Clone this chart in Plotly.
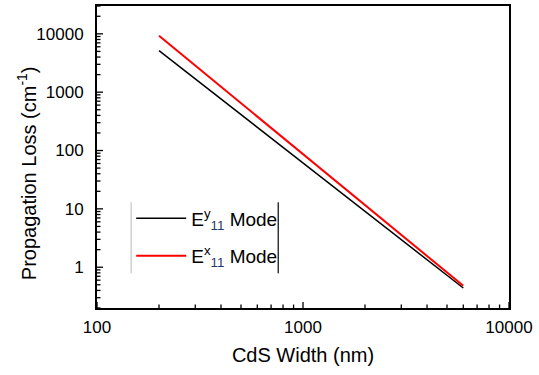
import plotly.graph_objects as go

width_nm = [200, 300, 500, 1000, 2000, 3000, 4000, 4700, 6000]
loss_ey = [5150, 1690, 413, 61, 9.05, 2.97, 1.34, 0.86, 0.44]
loss_ex = [9250, 2860, 653, 88, 11.8, 3.66, 1.59, 1.0, 0.48]

x_major_ticks = [100, 1000, 10000]
y_major_ticks = [1, 10, 100, 1000, 10000]
x_minor_ticks = [m * 10 ** e for e in (2, 3) for m in range(2, 10)]
y_minor_ticks = [m * 10 ** e for e in (-1, 0, 1, 2, 3, 4) for m in range(2, 10)
                 if 0.2 <= m * 10 ** e <= 30000]

names = ["E<sup>y</sup><sub><span style='color:#1f3a68'>11</span></sub> Mode",
         "E<sup>x</sup><sub><span style='color:#1f3a68'>11</span></sub> Mode"]

fig = go.Figure()
fig.add_trace(go.Scatter(x=width_nm, y=loss_ey, mode="lines", name=names[0],
                         legendgroup="a",
                         line=dict(color="black", width=1.5)))
fig.add_trace(go.Scatter(x=width_nm, y=loss_ex, mode="lines", name=names[1],
                         legendgroup="b",
                         line=dict(color="#ff0000", width=2)))

font = "Liberation Sans, Arial, sans-serif"
XR = [2, 4]
YR = [-0.699, 4.477]
ML, MR, MT, MB = 97, 30, 4, 67
PW, PH = 539 - ML - MR, 375 - MT - MB
axis_common = dict(showline=True, linecolor="black", linewidth=2, mirror=True,
                   ticks="", showgrid=False, zeroline=False)
fig.update_layout(
    width=539, height=375,
    margin=dict(l=ML, r=MR, t=MT, b=MB),
    paper_bgcolor="white", plot_bgcolor="white",
    font=dict(family=font, size=17, color="black"),
    showlegend=True,
    legend=dict(x=0.083, y=0.36, xanchor="left", yanchor="top",
                bgcolor="rgba(0,0,0,0)", borderwidth=0,
                font=dict(size=19), itemwidth=50, tracegroupgap=10,
                traceorder="grouped"),
    xaxis=dict(type="log", range=XR, dtick=1, tickformat="d",
               ticklabelstandoff=3,
               title=dict(text="CdS Width (nm)", font=dict(size=20), standoff=12),
               **axis_common),
    yaxis=dict(type="log", range=YR, dtick=1, tickformat="d",
               ticklabelstandoff=8, **axis_common),
)

# inside tick marks (major and minor) on the bottom and left axes
tick_line = dict(color="black", width=1.3)
for v in x_major_ticks:
    fig.add_shape(type="line", xref="x", yref="paper", x0=v, x1=v,
                  y0=0, y1=6 / PH, line=tick_line)
for v in x_minor_ticks:
    fig.add_shape(type="line", xref="x", yref="paper", x0=v, x1=v,
                  y0=0, y1=3.5 / PH, line=tick_line)
for v in y_major_ticks:
    fig.add_shape(type="line", xref="paper", yref="y", x0=0, x1=6 / PW,
                  y0=v, y1=v, line=tick_line)
for v in y_minor_ticks:
    fig.add_shape(type="line", xref="paper", yref="y", x0=0, x1=3.5 / PW,
                  y0=v, y1=v, line=tick_line)

fig.add_annotation(text="Propagation Loss (cm<sup>-1</sup>)", textangle=-90,
                   xref="paper", yref="paper", x=-0.172, y=0.447,
                   xanchor="center", yanchor="middle", showarrow=False,
                   font=dict(size=20))

fig.add_shape(type="line", xref="paper", yref="paper", x0=0.083, x1=0.083,
              y0=0.115, y1=0.35, line=dict(color="#d0d0d0", width=1.5))
fig.add_shape(type="line", xref="paper", yref="paper", x0=0.44, x1=0.44,
              y0=0.115, y1=0.35, line=dict(color="#333333", width=1.5))

fig.write_html("out.html")
